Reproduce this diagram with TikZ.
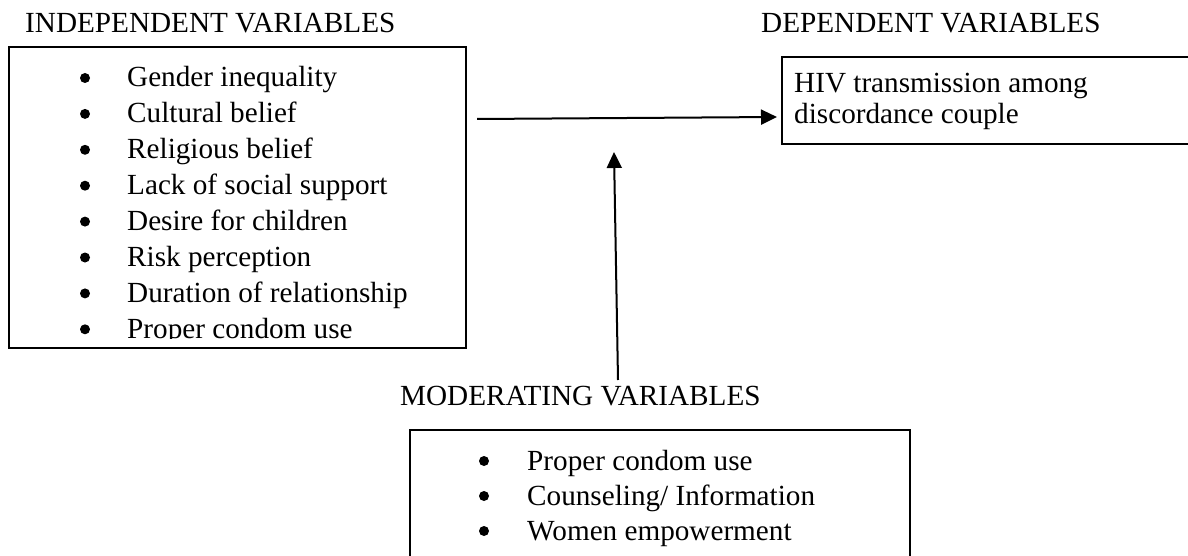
\documentclass[tikz,border=0pt]{standalone}
\usepackage{fontspec}
\setmainfont{Liberation Serif}
\usetikzlibrary{arrows.meta}
\tikzset{
  txt/.style={anchor=base west, inner sep=0pt, font=\fontsize{29.2}{31}\selectfont},
  bulletdot/.style={circle, fill=black, minimum size=10pt, inner sep=0pt},
  boxframe/.style={draw=black, line width=1.5pt, rectangle, inner sep=0pt},
  conn/.style={line width=2pt, -{Triangle[length=16pt,width=15pt]}},
}
\begin{document}
\begin{tikzpicture}[x=1pt,y=-1pt]
\useasboundingbox (0,0) rectangle (1188,556);
\clip (0,0) rectangle (1188,556);
% titles
\node[txt] (tind) at (25,33) {INDEPENDENT VARIABLES};
\node[txt] (tdep) at (761,33) {DEPENDENT VARIABLES};
\node[txt] (tmod) at (400,405) {MODERATING VARIABLES};
% independent box
\node[boxframe, minimum width=457pt, minimum height=301pt] (ind) at (237.5,197.5) {};
\begin{scope}
\clip (9,47) rectangle (466,338.5);
\foreach \t [count=\i from 0] in {Gender inequality, Cultural belief, Religious belief, Lack of social support, Desire for children, Risk perception, Duration of relationship, Proper condom use}
{
  \node[bulletdot] (ib\i) at (85,78+35.9*\i) {};
  \node[txt] (i\i) at (127,87+35.9*\i) {\t};
}
\end{scope}
% dependent box
\node[boxframe, minimum width=420pt, minimum height=87pt] (dep) at (992,100.5) {};
\node[txt] (d1) at (794,93) {HIV transmission among};
\node[txt] (d2) at (794,124) {discordance couple};
% moderating box
\node[boxframe, minimum width=500pt, minimum height=160pt] (mod) at (660,510) {};
\foreach \t [count=\i from 0] in {Proper condom use, Counseling/ Information, Women empowerment}
{
  \node[bulletdot] (mb\i) at (484,461+35*\i) {};
  \node[txt] (m\i) at (527,470+35*\i) {\t};
}
% connectors
\coordinate (hs) at (477,119);
\coordinate (he) at (777,117);
\coordinate (vs) at (618,380);
\coordinate (ve) at (614,152);
\draw[conn] (hs) -- (he);
\draw[conn] (vs) -- (ve);
\end{tikzpicture}
\end{document}
